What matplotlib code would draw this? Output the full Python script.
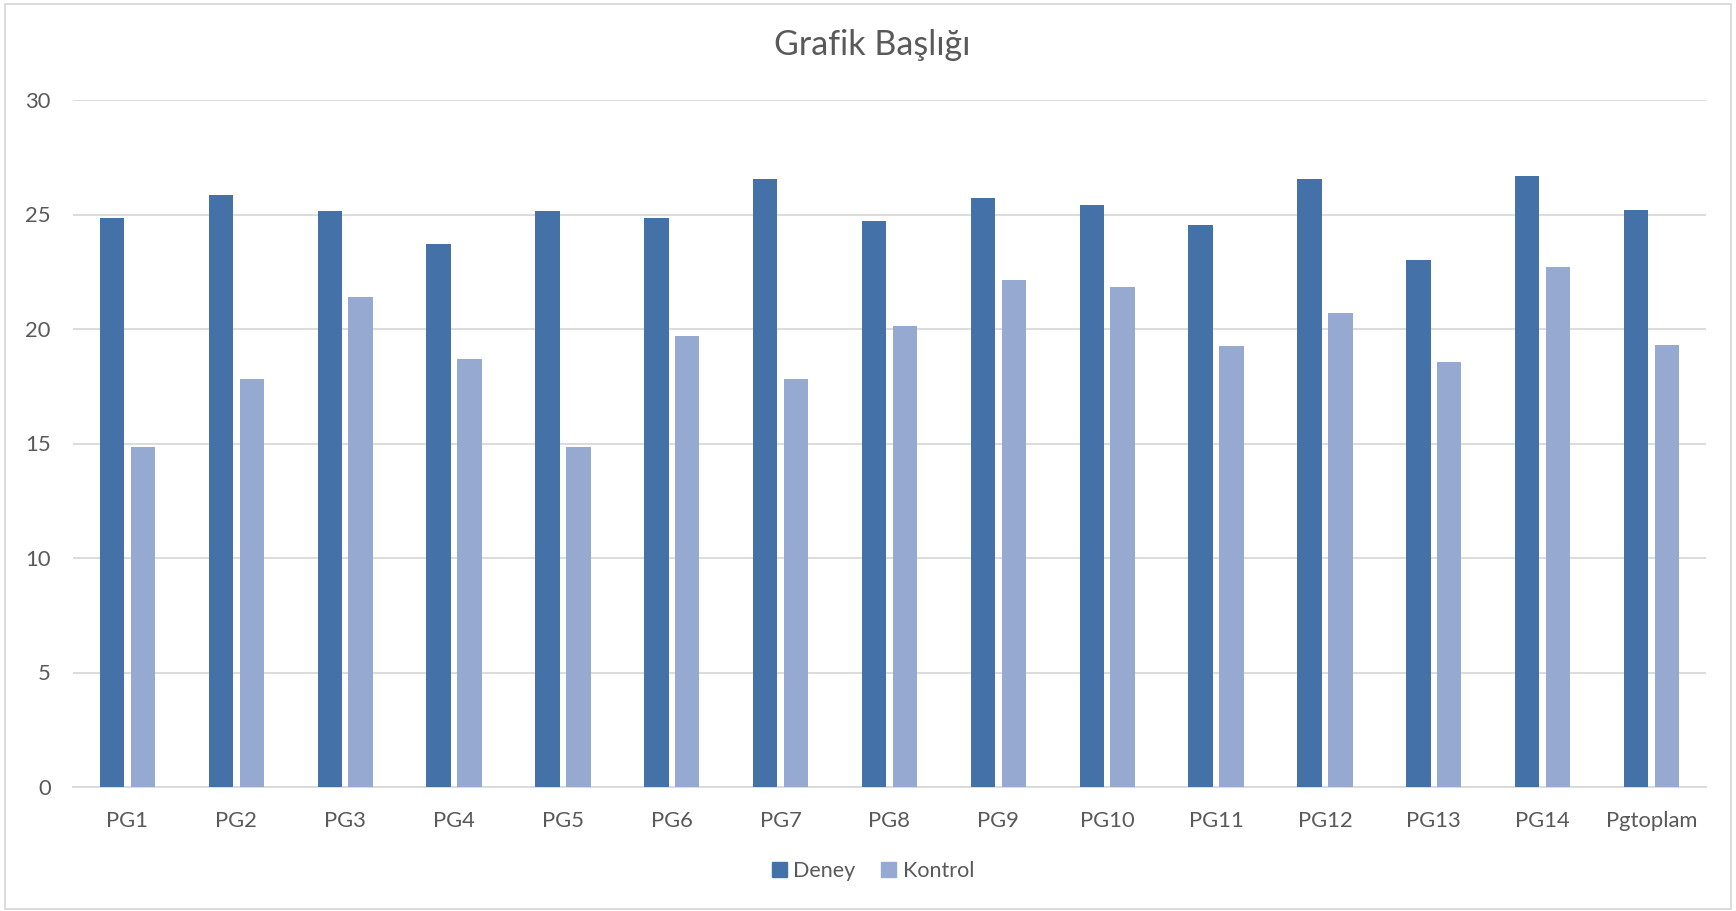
import numpy as np
import matplotlib.pyplot as plt
from matplotlib.patches import Patch, Rectangle

categories = ['PG1', 'PG2', 'PG3', 'PG4', 'PG5', 'PG6', 'PG7', 'PG8',
              'PG9', 'PG10', 'PG11', 'PG12', 'PG13', 'PG14', 'Pgtoplam']
deney = [24.83, 25.85, 25.14, 23.70, 25.14, 24.83, 26.55, 24.72,
         25.71, 25.40, 24.56, 26.55, 23.00, 26.70, 25.18]
kontrol = [14.83, 17.83, 21.41, 18.69, 14.83, 19.69, 17.83, 20.13,
           22.13, 21.83, 19.26, 20.70, 18.55, 22.69, 19.29]

c_deney = '#4472A8'
c_kontrol = '#95A9D1'
txt = '#595959'
grid = '#D9D9D9'

plt.rcParams['font.family'] = ['Lato', 'DejaVu Sans']

fig = plt.figure(figsize=(17.36, 9.11), dpi=100)
ax = fig.add_axes([73/1736, 1 - 787/911, (1706-73)/1736, (787-100)/911])

x = np.arange(len(categories))
w = 0.224
off = 0.142
ax.bar(x - off, deney, w, color=c_deney, zorder=3)
ax.bar(x + off, kontrol, w, color=c_kontrol, zorder=3)

ax.set_xlim(-0.5, len(categories) - 0.5)
ax.set_ylim(0, 30)
ax.set_yticks(range(0, 31, 5))
ax.set_xticks(x)
ax.set_xticklabels(categories)
ax.yaxis.grid(True, color=grid, linewidth=1.3, zorder=0)
ax.set_axisbelow(True)
for s in ['top', 'right', 'left']:
    ax.spines[s].set_visible(False)
ax.spines['bottom'].set_color(grid)
ax.spines['bottom'].set_linewidth(1.3)
ax.tick_params(axis='both', length=0, labelsize=15.8, colors=txt)
ax.tick_params(axis='x', pad=17)
ax.tick_params(axis='y', pad=16)

fig.text(872/1736, 1 - 45/911, 'Grafik Başlığı', ha='center', va='center',
         fontsize=24.5, color=txt)

handles = [Patch(color=c_deney, label='Deney'), Patch(color=c_kontrol, label='Kontrol')]
fig.legend(handles=handles, loc='center', bbox_to_anchor=(873/1736, 1 - 871/911),
           ncol=2, frameon=False, fontsize=15.5, labelcolor=txt,
           handlelength=0.7, handleheight=0.7, handletextpad=0.3, columnspacing=1.2)

fig.patches.append(Rectangle((5/1736, 2/911), 1726/1736, 905/911, transform=fig.transFigure,
                             fill=False, edgecolor=grid, linewidth=1.3))

fig.savefig('out.png', dpi=100, facecolor='white')
